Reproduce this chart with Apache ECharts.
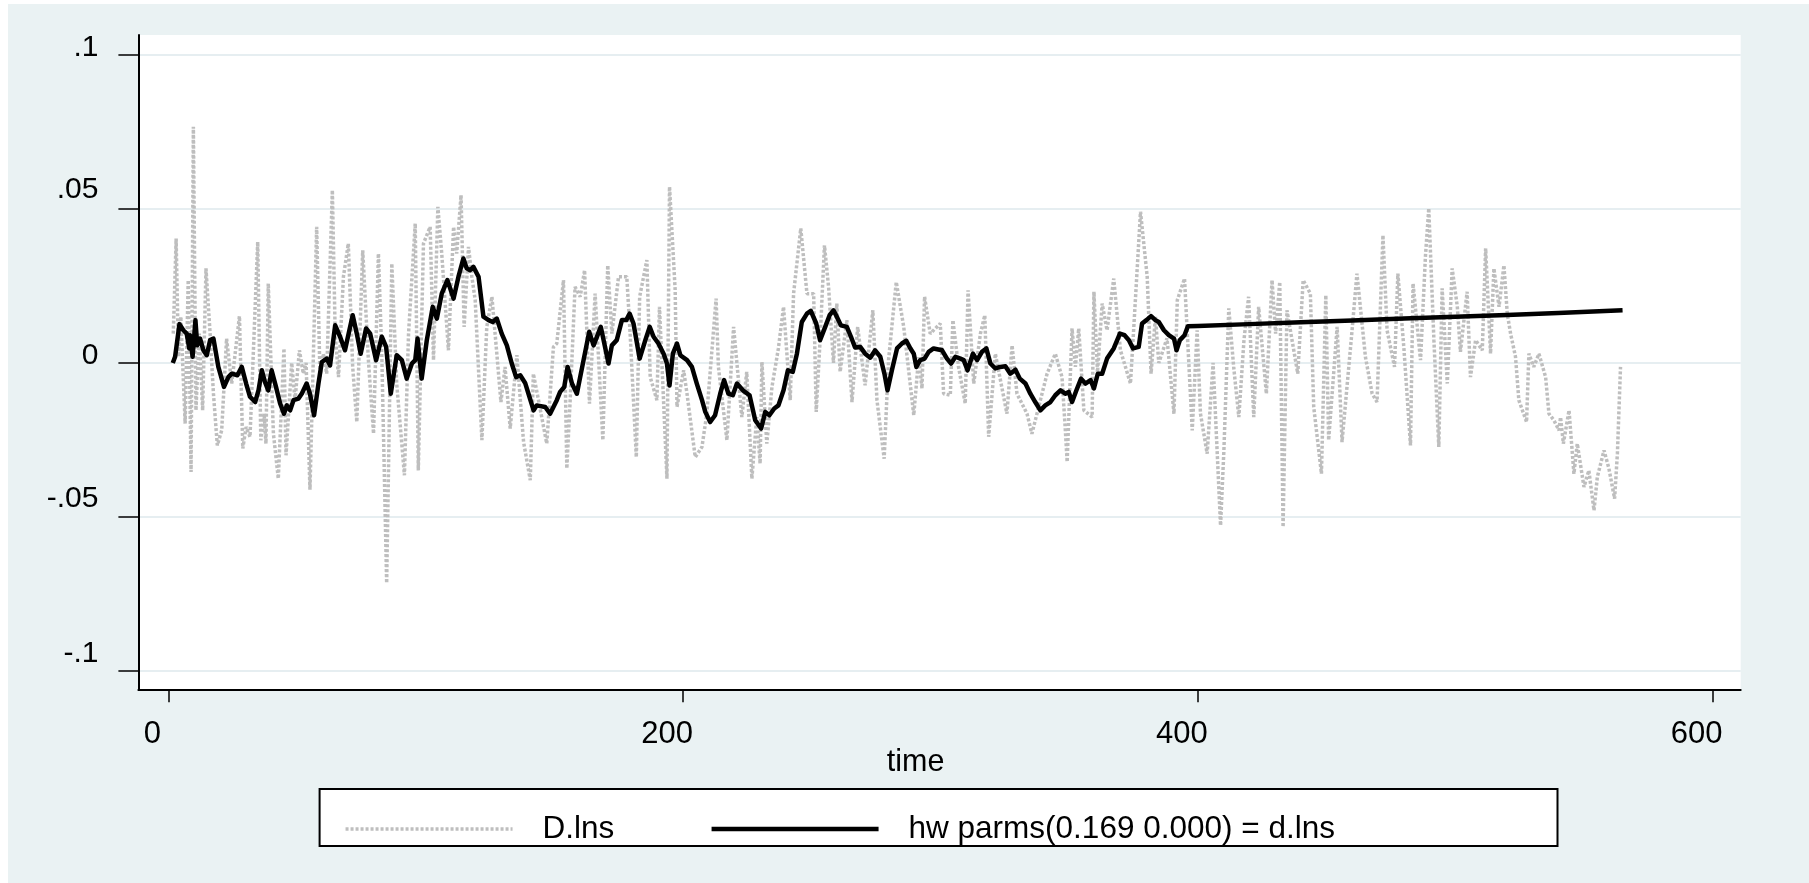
<!DOCTYPE html>
<html>
<head>
<meta charset="utf-8">
<script src="https://cdn.jsdelivr.net/npm/echarts@6/dist/echarts.min.js"></script>
<style>
html,body{margin:0;padding:0;background:#ffffff;}
#chart{position:absolute;left:8px;top:4px;width:1801px;height:879px;}
</style>
</head>
<body>
<div id="chart"></div>
<script>
// ---- data ----
const dlnsTime = [1.9,3.0,3.9,4.8,6.5,7.7,8.8,9.7,10.7,12.0,13.3,14.6,16.2,17.5,19.0,20.7,22.6,24.6,27.6,28.9,30.2,31.7,34.7,35.9,37.2,37.9,38.8,40.8,42.7,44.9,45.7,47.9,49.2,50.9,52.4,53.5,55.0,57.6,58.9,60.2,61.5,63.7,64.8,66.1,68.0,
69.9,71.6,73.2,75.5,77.7,79.7,81.6,82.9,84.8,86.8,88.7,91.7,93.3,95.9,97.1,99.1,101.7,103.0,104.7,106.2,108.8,110.8,112.0,113.7,114.9,116.6,117.9,119.2,121.8,123.7,125.7,127.6,129.2,130.8,132.8,135.4,138.0,
140.6,141.8,143.8,147.0,149.6,150.9,153.5,154.8,156.1,158.0,160.0,161.7,163.6,165.8,168.8,170.7,172.3,174.9,178.1,179.4,181.8,183.1,185.9,187.2,189.8,190.8,193.7,194.7,196.9,197.6,200.2,201.5,204.7,207.3,
209.2,212.8,213.7,217.0,219.6,222.8,224.7,226.7,228.6,229.9,230.6,232.5,234.5,237.0,239.0,241.6,242.9,245.7,248.1,250.7,251.7,253.2,254.9,256.5,258.4,259.7,261.0,263.6,265.6,267.8,270.7,273.7,275.3,278.1,
279.8,282.8,285.7,289.6,291.5,292.8,293.8,296.0,299.9,301.2,303.8,304.8,307.0,309.6,310.7,312.9,315.5,317.2,318.7,321.3,325.8,327.8,329.7,333.6,335.5,338.8,341.4,344.6,347.2,348.5,
349.2,351.1,352.4,353.7,355.7,358.9,359.6,361.0,362.8,364.7,367.3,369.9,373.8,375.1,377.7,380.3,381.8,383.5,384.8,388.0,390.7,392.0,394.8,397.8,399.7,401.0,403.6,405.9,408.8,410.1,412.0,413.9,415.9,417.9,
419.7,421.7,423.6,426.6,428.8,430.2,431.8,433.1,434.6,438.8,440.9,443.7,445.0,448.0,449.7,450.8,454.1,456.0,459.9,461.8,465.1,467.7,469.6,471.9,473.5,476.4,477.7,480.0,482.6,483.6,486.5,488.4,
489.7,491.7,493.6,494.9,496.9,498.8,500.8,502.0,504.6,505.9,507.9,510.5,511.8,513.7,515.0,517.0,518.9,520.2,521.5,523.4,524.7,527.7,528.6,530.5,532.5,535.1,536.4,538.3,540.3,540.9,542.0,544.2,546.1,547.4,550.0,551.9,553.9,555.2,557.8,559.7,561.9,563.0,564.2];
const dlnsValue = [0.0095,0.0404,0.0020,0.0150,-0.0197,0.0269,-0.0354,0.0767,-0.0154,0.0095,-0.0154,0.0307,0.0095,-0.0100,-0.0268,-0.0219,0.0079,-0.0067,0.0152,-0.0278,-0.0208,-0.0240,0.0393,-0.0251,-0.0165,-0.0262,0.0258,-0.0230,-0.0376,0.0047,-0.0300,0.0000,-0.0121,0.0041,-0.0035,0.0000,-0.0412,0.0442,-0.0046,0.0030,-0.0035,0.0561,0.0095,-0.0046,0.0280,
0.0388,-0.0013,-0.0192,0.0366,0.0009,-0.0230,0.0355,0.0030,-0.0715,0.0323,-0.0067,-0.0365,0.0095,0.0453,-0.0349,0.0388,0.0442,0.0009,0.0507,0.0355,0.0041,0.0442,0.0355,0.0545,0.0117,0.0377,0.0280,0.0204,-0.0251,0.0117,0.0215,0.0030,-0.0127,-0.0013,-0.0213,0.0025,-0.0257,
-0.0381,-0.0035,-0.0121,-0.0262,0.0052,0.0063,0.0269,-0.0343,-0.0121,0.0247,0.0215,0.0301,-0.0132,0.0225,-0.0251,0.0317,0.0095,0.0280,0.0280,0.0095,-0.0306,0.0215,0.0334,-0.0046,-0.0121,0.0182,-0.0376,0.0572,0.0236,-0.0143,-0.0024,-0.0100,-0.0306,-0.0273,
-0.0165,0.0209,-0.0013,-0.0251,0.0117,-0.0176,-0.0029,-0.0376,-0.0176,-0.0327,0.0003,-0.0262,-0.0078,0.0047,0.0182,-0.0121,0.0225,0.0437,0.0225,0.0225,-0.0159,0.0074,0.0382,0.0247,0.0000,0.0193,-0.0029,0.0139,-0.0127,0.0117,-0.0073,0.0171,-0.0121,-0.0311,
0.0009,0.0263,0.0117,-0.0170,0.0019,-0.0083,0.0215,0.0095,0.0128,-0.0100,-0.0105,0.0139,-0.0013,-0.0132,0.0236,-0.0067,0.0095,0.0155,-0.0240,0.0030,-0.0165,0.0057,-0.0100,-0.0165,-0.0230,-0.0121,-0.0035,0.0030,-0.0046,-0.0219,
-0.0322,0.0112,-0.0013,0.0112,-0.0154,-0.0176,0.0231,-0.0030,0.0193,0.0106,0.0274,0.0041,-0.0067,0.0117,0.0491,0.0280,-0.0035,0.0150,0.0000,0.0080,-0.0165,0.0204,0.0274,-0.0219,0.0106,-0.0165,-0.0295,0.0000,-0.0528,-0.0284,0.0177,-0.0013,-0.0176,0.0074,
0.0215,-0.0176,0.0182,-0.0100,0.0269,0.0095,0.0263,-0.0533,0.0171,-0.0035,0.0269,0.0225,-0.0143,-0.0360,0.0220,-0.0251,0.0117,-0.0257,0.0106,0.0290,0.0019,-0.0100,-0.0127,0.0415,0.0106,-0.0013,0.0290,0.0052,-0.0268,0.0258,0.0009,0.0345,
0.0502,0.0074,-0.0273,0.0242,-0.0067,0.0307,0.0182,0.0036,0.0231,-0.0046,0.0074,0.0041,0.0372,0.0030,0.0307,0.0182,0.0317,0.0160,0.0095,0.0020,-0.0121,-0.0192,0.0030,-0.0013,0.0030,-0.0046,-0.0165,-0.0186,-0.0219,-0.0176,-0.0262,-0.0154,-0.0360,-0.0262,-0.0403,-0.0349,-0.0479,-0.0370,-0.0284,-0.0343,-0.0441,-0.0293,-0.0013];

const hwTime = [1.7,2.6,4.3,5.8,7.1,8.1,8.4,9.4,10.5,11.2,12.3,13.6,14.9,16.2,17.5,19.4,21.6,23.3,24.6,26.8,28.5,30.2,31.7,33.7,35.0,36.3,37.5,38.8,40.1,41.8,43.4,44.9,46.0,47.3,48.6,50.5,51.8,53.7,55.0,56.6,58.3,59.6,61.5,62.8,64.8,66.7,68.6,
71.6,73.2,74.7,76.8,78.4,80.7,82.9,84.6,86.4,88.7,90.7,92.6,94.6,95.9,96.8,98.4,100.4,102.7,104.3,106.2,108.4,110.8,112.7,114.6,115.9,117.2,118.5,120.5,122.4,124.4,126.0,127.6,129.5,131.5,133.4,135.1,136.7,138.6,
139.9,141.9,143.1,146.4,148.3,150.9,152.2,153.8,155.1,156.8,158.7,161.3,163.5,165.2,168.0,171.0,172.3,174.2,176.2,177.9,179.2,180.7,183.1,185.3,187.0,188.5,190.4,192.4,193.7,194.7,196.0,197.6,198.9,201.5,203.4,205.3,207.3,208.6,
210.5,212.4,214.4,215.9,217.6,219.3,220.9,223.2,225.8,228.0,230.3,231.9,233.5,235.4,237.0,239.0,240.7,242.6,244.2,246.1,248.1,249.6,251.7,253.2,255.2,256.9,258.4,259.7,261.3,263.6,265.2,266.8,268.8,270.7,272.7,274.6,276.6,
278.2,279.4,281.1,283.1,285.0,286.7,288.3,289.6,290.6,292.1,293.8,295.4,297.3,300.6,302.5,304.1,305.8,307.7,309.0,310.5,312.6,314.2,316.1,317.8,319.4,321.3,323.2,325.2,327.1,329.1,330.8,333.0,334.9,336.8,338.8,340.7,342.7,344.6,346.6,
348.5,349.8,351.1,352.8,354.6,356.3,358.3,359.6,361.1,362.8,364.7,367.3,369.7,371.5,373.2,374.8,377.0,378.3,380.0,381.8,383.5,384.8,386.8,388.7,390.7,391.7,393.0,394.8,396.1,
400,420,440,460,480,500,520,540,565];
const hwValue = [0.0000,0.0020,0.0126,0.0106,0.0095,0.0047,0.0090,0.0020,0.0139,0.0057,0.0079,0.0041,0.0025,0.0074,0.0079,-0.0013,-0.0078,-0.0046,-0.0035,-0.0040,-0.0013,-0.0067,-0.0110,-0.0127,-0.0089,-0.0024,-0.0062,-0.0089,-0.0024,-0.0078,-0.0132,-0.0165,-0.0138,-0.0154,-0.0121,-0.0116,-0.0100,-0.0067,-0.0100,-0.0170,-0.0067,0.0003,0.0014,-0.0008,0.0122,0.0085,0.0041,
0.0155,0.0095,0.0030,0.0112,0.0095,0.0009,0.0085,0.0052,-0.0100,0.0025,0.0009,-0.0051,-0.0002,0.0009,0.0079,-0.0051,0.0074,0.0182,0.0144,0.0225,0.0269,0.0209,0.0280,0.0339,0.0307,0.0301,0.0312,0.0280,0.0150,0.0139,0.0133,0.0144,0.0095,0.0057,-0.0002,-0.0046,-0.0040,-0.0065,
-0.0100,-0.0154,-0.0138,-0.0143,-0.0165,-0.0121,-0.0094,-0.0078,-0.0013,-0.0067,-0.0100,0.0009,0.0101,0.0057,0.0117,-0.0002,0.0057,0.0074,0.0139,0.0139,0.0160,0.0128,0.0014,0.0074,0.0117,0.0085,0.0063,0.0030,-0.0002,-0.0073,0.0030,0.0063,0.0025,0.0009,-0.0013,-0.0067,-0.0120,-0.0159,
-0.0192,-0.0170,-0.0100,-0.0056,-0.0100,-0.0105,-0.0067,-0.0089,-0.0105,-0.0186,-0.0213,-0.0159,-0.0170,-0.0148,-0.0138,-0.0089,-0.0024,-0.0029,0.0030,0.0133,0.0160,0.0169,0.0128,0.0074,0.0117,0.0155,0.0171,0.0150,0.0122,0.0117,0.0085,0.0050,0.0052,0.0030,0.0017,0.0041,0.0020,
-0.0035,-0.0089,-0.0024,0.0047,0.0063,0.0072,0.0047,0.0030,-0.0013,0.0009,0.0014,0.0036,0.0047,0.0041,0.0014,-0.0002,0.0020,0.0014,0.0009,-0.0024,0.0030,0.0009,0.0036,0.0047,-0.0002,-0.0018,-0.0013,-0.0011,-0.0035,-0.0022,-0.0051,-0.0067,-0.0100,-0.0127,-0.0154,-0.0138,-0.0127,-0.0105,-0.0089,
-0.0100,-0.0094,-0.0127,-0.0089,-0.0051,-0.0067,-0.0056,-0.0083,-0.0035,-0.0035,0.0014,0.0047,0.0095,0.0090,0.0074,0.0047,0.0052,0.0128,0.0139,0.0152,0.0139,0.0133,0.0106,0.0090,0.0079,0.0041,0.0074,0.0090,0.0119,
0.0120,0.0126,0.0132,0.0138,0.0144,0.0150,0.0156,0.0162,0.0171];

const xTickValues = [0, 200, 400, 600];
const yTickValues = [-0.1, -0.05, 0, 0.05, 0.1];
const yTickLabels = ['-.1', '-.05', '0', '.05', '.1'];
const seriesNames = ['D.lns', 'hw parms(0.169 0.000) = d.lns'];
const xTitle = 'time';

// ---- chart ----
const FONT = '"Liberation Sans", Arial, sans-serif';
const zip = (a, b) => a.map((v, i) => [v, b[i]]);
// vertical lift (px) of each y tick label, as placed in the reference
const yLabelLift = [17, 18, 7, 19, 7];
const yRich = {};
yLabelLift.forEach((lift, i) => {
  yRich['l' + i] = {fontFamily: FONT, fontSize: 30, color: '#000', padding: [0, 0, 2 * lift, 0]};
});
const chart = echarts.init(document.getElementById('chart'), null, {renderer: 'canvas'});
chart.setOption({
  animation: false,
  backgroundColor: '#eaf2f3',
  textStyle: {fontFamily: FONT, color: '#000'},
  grid: {left: 130.4, top: 31, right: 68.3, bottom: 193.7, show: true, backgroundColor: '#ffffff', borderWidth: 0},
  graphic: [{
    type: 'rect', z: 0, silent: true,
    shape: {x: 311.6, y: 785, width: 1237.9, height: 57},
    style: {fill: '#ffffff', stroke: '#000000', lineWidth: 2}
  }],
  legend: {
    left: 330.8, top: 804,
    itemWidth: 167, itemHeight: 20, itemGap: 95,
    data: seriesNames,
    itemStyle: {opacity: 0},
    lineStyle: {width: 'inherit'},
    textStyle: {fontFamily: FONT, fontSize: 31.5, color: '#000', padding: [0, 0, 0, 25]},
    z: 5
  },
  xAxis: {
    type: 'value', min: -11.66, max: 610.9,
    axisLine: {show: true, onZero: false, lineStyle: {color: '#000', width: 2}},
    axisTick: {show: true, customValues: xTickValues, length: 13, lineStyle: {color: '#000', width: 1.5}},
    axisLabel: {customValues: xTickValues, fontFamily: FONT, fontSize: 31, color: '#000', margin: 30, padding: [0, 32, 0, 0]},
    splitLine: {show: false},
    name: xTitle, nameLocation: 'middle', nameGap: 57.5, nameMoveOverlap: false,
    nameTextStyle: {fontFamily: FONT, fontSize: 30.5, color: '#000', padding: [0, 48, 0, 0]}
  },
  yAxis: {
    type: 'value', min: -0.106, max: 0.1065,
    axisLine: {show: true, onZero: false, lineStyle: {color: '#000', width: 2}},
    axisTick: {show: true, customValues: yTickValues, length: 20, lineStyle: {color: '#000', width: 1.5}},
    axisLabel: {
      customValues: yTickValues, fontFamily: FONT, fontSize: 30, color: '#000', margin: 40,
      rich: yRich,
      formatter: v => { const i = yTickValues.findIndex(t => Math.abs(t - v) < 1e-9); return i >= 0 ? '{l' + i + '|' + yTickLabels[i] + '}' : ''; }
    },
    splitLine: {show: true, lineStyle: {color: '#e6eef1', width: 2}}
  },
  series: [
    {
      name: seriesNames[0], type: 'line', data: zip(dlnsTime, dlnsValue),
      symbol: 'none', z: 2,
      lineStyle: {color: '#bebebe', width: 3.5, type: [3, 2], cap: 'butt'},
      itemStyle: {color: '#bebebe'}
    },
    {
      name: seriesNames[1], type: 'line', data: zip(hwTime, hwValue),
      symbol: 'none', z: 3,
      lineStyle: {color: '#000000', width: 4.5, join: 'round'},
      itemStyle: {color: '#000000'}
    }
  ]
});
</script>
</body>
</html>
